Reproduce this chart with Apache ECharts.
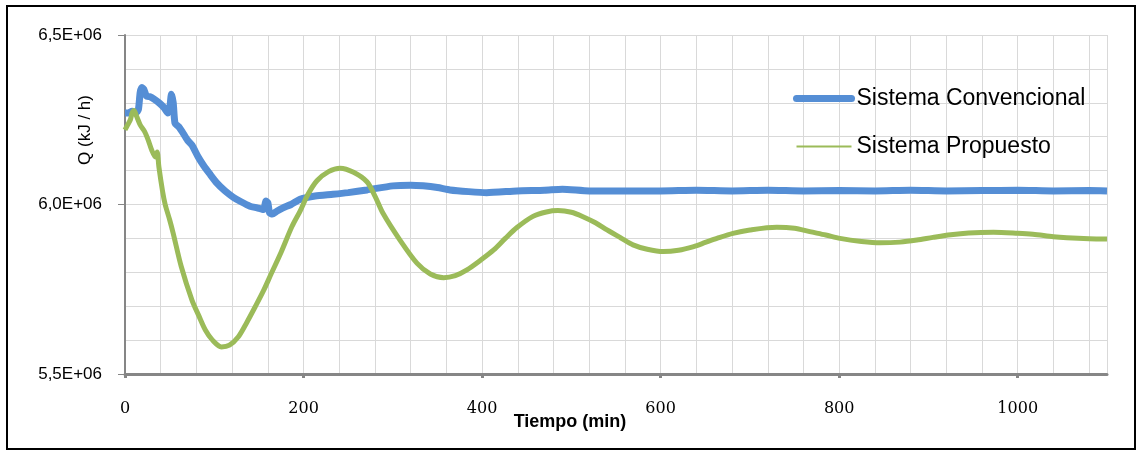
<!DOCTYPE html>
<html>
<head>
<meta charset="utf-8">
<script src="https://cdn.jsdelivr.net/npm/echarts@6/dist/echarts.min.js"></script>
<style>
html,body{margin:0;padding:0;background:#fff;}
#chart{width:1141px;height:451px;}
</style>
</head>
<body>
<div id="chart"></div>
<script>
// Data (values in kJ/h, time in minutes)
const seriesNames = ['Sistema Convencional', 'Sistema Propuesto'];
const xTickLabels = [0, 200, 400, 600, 800, 1000];
const yTickLabels = [5.5e6, 6.0e6, 6.5e6];

const convTime = [0,4,8,12,15,17,19,21,24,28,33,39,44,48,50,52,54,56,60,64,70,75,82,88,95,103,112,121,130,140,148,155,158,160,162,165,170,177,186,196,213,233,250,271,300,320,334,350,364,385,405,439,470,490,520,560,600,640,680,720,760,800,840,880,920,960,1000,1040,1080,1100];
const convQ = [6.27,6.27,6.275,6.27,6.28,6.33,6.345,6.34,6.32,6.318,6.31,6.298,6.285,6.27,6.28,6.325,6.30,6.24,6.23,6.215,6.19,6.175,6.14,6.115,6.09,6.063,6.04,6.022,6.008,5.995,5.99,5.985,6.01,6.005,5.975,5.972,5.98,5.99,6.0,6.015,6.025,6.03,6.035,6.043,6.055,6.057,6.055,6.05,6.043,6.038,6.035,6.04,6.042,6.045,6.04,6.04,6.04,6.042,6.04,6.042,6.04,6.041,6.04,6.042,6.04,6.041,6.042,6.04,6.041,6.04];

const propTime = [0,3,6,8,10,13,17,22,26,30,34,36,38,42,45,50,54,63,75,83,90,98,108,117,127,136,146,155,164,175,187,196,205,215,228,241,256,271,280,289,308,327,342,357,370,383,398,413,426,439,457,472,485,500,513,527,540,555,569,585,603,620,637,650,663,681,700,730,750,767,785,801,825,846,868,887,905,925,945,973,1000,1017,1040,1055,1080,1100];
const propQ = [6.22,6.235,6.25,6.27,6.277,6.26,6.235,6.215,6.19,6.16,6.14,6.155,6.11,6.04,6.0,5.955,5.915,5.817,5.718,5.67,5.63,5.6,5.58,5.585,5.61,5.65,5.699,5.745,5.797,5.86,5.935,5.98,6.03,6.07,6.097,6.107,6.095,6.067,6.025,5.974,5.895,5.827,5.795,5.784,5.79,5.807,5.835,5.866,5.9,5.932,5.965,5.978,5.982,5.977,5.964,5.946,5.925,5.902,5.881,5.868,5.861,5.865,5.876,5.888,5.9,5.915,5.925,5.933,5.93,5.92,5.91,5.9,5.891,5.887,5.889,5.895,5.903,5.911,5.916,5.918,5.915,5.912,5.905,5.902,5.899,5.898];

const toPairs = (ts, qs) => ts.map((t, i) => [t, qs[i] * 1e6]);

const chart = echarts.init(document.getElementById('chart'), null, {renderer: 'canvas'});
chart.setOption({
  backgroundColor: '#ffffff',
  animation: false,
  grid: {left: 125, right: 34, top: 35, bottom: 77},
  legend: {
    orient: 'vertical',
    left: 793,
    top: 87,
    padding: 0,
    itemWidth: 55,
    itemHeight: 24,
    itemGap: 25,
    textStyle: {fontFamily: 'Liberation Sans', fontSize: 23, color: '#000'},
    data: [
      {name: seriesNames[0], itemStyle: {opacity: 0}, lineStyle: {width: 7, color: '#558ED5', cap: 'round'}},
      {name: seriesNames[1], itemStyle: {opacity: 0}, lineStyle: {width: 2, color: '#9BBB59'}}
    ]
  },
  xAxis: [
    {
      type: 'value',
      min: 0,
      max: 1100,
      interval: 40,
      axisLine: {show: true, onZero: false, lineStyle: {color: '#868686', width: 3}},
      axisTick: {show: false},
      axisLabel: {customValues: xTickLabels, margin: 27, fontFamily: 'DejaVu Serif', fontSize: 16, color: '#000', formatter: v => String(v)},
      splitLine: {show: true, lineStyle: {color: '#d9d9d9', width: 1}}
    },
    {
      type: 'value',
      min: 0,
      max: 1100,
      position: 'bottom',
      axisLine: {show: false},
      axisTick: {show: true, customValues: xTickLabels, length: 4, lineStyle: {color: '#868686', width: 3}},
      axisLabel: {show: false},
      splitLine: {show: false}
    }
  ],
  yAxis: [
    {
      type: 'value',
      min: 5.5e6,
      max: 6.5e6,
      interval: 1e5,
      axisLine: {show: true, lineStyle: {color: '#868686', width: 2}},
      axisTick: {show: false},
      axisLabel: {
        customValues: yTickLabels,
        margin: 23,
        fontFamily: 'Liberation Sans',
        fontSize: 17,
        color: '#000',
        formatter: v => (v / 1e6).toFixed(1).replace('.', ',') + 'E+06'
      },
      splitLine: {show: true, lineStyle: {color: '#d9d9d9', width: 1}}
    },
    {
      type: 'value',
      min: 5.5e6,
      max: 6.5e6,
      position: 'left',
      axisLine: {show: false},
      axisTick: {show: true, customValues: yTickLabels, length: 7, lineStyle: {color: '#868686', width: 1}},
      axisLabel: {show: false},
      splitLine: {show: false}
    }
  ],
  series: [
    {
      name: seriesNames[0],
      type: 'line',
      symbol: 'none',
      smooth: 0.2,
      data: toPairs(convTime, convQ),
      lineStyle: {color: '#558ED5', width: 7},
      itemStyle: {color: '#558ED5'},
      z: 2
    },
    {
      name: seriesNames[1],
      type: 'line',
      symbol: 'none',
      smooth: 0.3,
      data: toPairs(propTime, propQ),
      lineStyle: {color: '#9BBB59', width: 5},
      itemStyle: {color: '#9BBB59'},
      z: 3
    }
  ],
  graphic: [
    {
      type: 'rect',
      shape: {x: 7, y: 6, width: 1128, height: 443},
      style: {fill: null, stroke: '#000', lineWidth: 2},
      silent: true
    },
    {
      type: 'text',
      x: 85,
      y: 130,
      rotation: Math.PI / 2,
      style: {text: 'Q (kJ / h)', fontFamily: 'Liberation Sans', fontSize: 17, fill: '#000', textAlign: 'center', textVerticalAlign: 'middle'}
    },
    {
      type: 'text',
      x: 570,
      y: 422,
      style: {text: 'Tiempo (min)', fontFamily: 'Liberation Sans', fontWeight: 'bold', fontSize: 18, fill: '#000', textAlign: 'center', textVerticalAlign: 'middle'}
    }
  ]
});
</script>
</body>
</html>
